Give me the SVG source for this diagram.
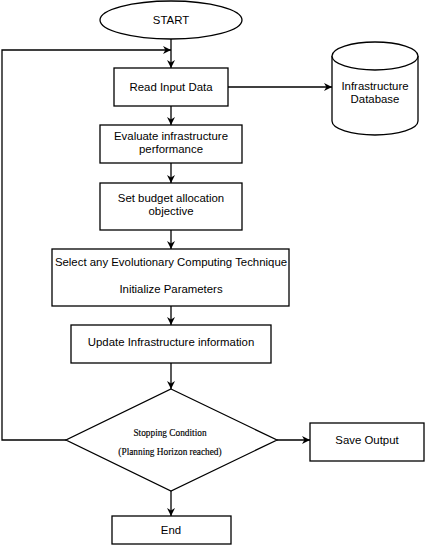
<svg xmlns="http://www.w3.org/2000/svg" width="425" height="546" viewBox="0 0 425 546">
<style>
.box{fill:#fff;stroke:#000;stroke-width:1.3}
.t{font-family:"Liberation Sans",Arial,sans-serif;font-size:11.4px;fill:#000;text-anchor:middle}
.s{font-family:"Liberation Serif","Times New Roman",serif;font-size:9.3px;fill:#000;stroke:#000;stroke-width:0.15;text-anchor:middle}
.c{fill:none;stroke:#000;stroke-width:1.3}
</style>
<defs>
<marker id="ah" viewBox="0 0 10 10" refX="10" refY="5" markerWidth="8" markerHeight="8" markerUnits="userSpaceOnUse" orient="auto">
<path d="M0,0 L10,5 L0,10 L3,5 z" fill="#000"/>
</marker>
</defs>
<rect width="425" height="546" fill="#fff"/>
<g id="connectors">
<line class="c" x1="171" y1="39" x2="171" y2="68" marker-end="url(#ah)"/>
<line class="c" x1="228" y1="87" x2="332" y2="87" marker-end="url(#ah)"/>
<line class="c" x1="171" y1="106" x2="171" y2="125" marker-end="url(#ah)"/>
<line class="c" x1="171" y1="163" x2="171" y2="183" marker-end="url(#ah)"/>
<line class="c" x1="171" y1="230" x2="171" y2="249" marker-end="url(#ah)"/>
<line class="c" x1="171" y1="306" x2="171" y2="325" marker-end="url(#ah)"/>
<line class="c" x1="171" y1="363" x2="171" y2="389" marker-end="url(#ah)"/>
<line class="c" x1="277" y1="440" x2="310" y2="440" marker-end="url(#ah)"/>
<line class="c" x1="171" y1="491" x2="171" y2="516" marker-end="url(#ah)"/>
<polyline class="c" points="66,440 2,440 2,50 171,50" marker-end="url(#ah)"/>
</g>
<g id="start">
<ellipse class="box" cx="171" cy="20" rx="71" ry="19"/>
<text class="t" x="171" y="24">START</text>
</g>
<g id="read">
<rect class="box" x="114" y="68" width="114" height="38"/>
<text class="t" x="171" y="91">Read Input Data</text>
</g>
<g id="db">
<path class="box" d="M332,56 L332,121 A43,14 0 0 0 418,121 L418,56"/>
<ellipse class="box" cx="375" cy="56" rx="43" ry="14"/>
<text class="t" x="375" y="90">Infrastructure</text>
<text class="t" x="375" y="103">Database</text>
</g>
<g id="evaluate">
<rect class="box" x="100" y="125" width="142" height="38"/>
<text class="t" x="171" y="140">Evaluate infrastructure</text>
<text class="t" x="171" y="153">performance</text>
</g>
<g id="budget">
<rect class="box" x="100" y="183" width="142" height="47"/>
<text class="t" x="171" y="202">Set budget allocation</text>
<text class="t" x="171" y="215">objective</text>
</g>
<g id="select">
<rect class="box" x="52" y="249" width="237" height="57"/>
<text class="t" x="171" y="266">Select any Evolutionary Computing Technique</text>
<text class="t" x="171" y="293">Initialize Parameters</text>
</g>
<g id="update">
<rect class="box" x="71" y="325" width="200" height="38"/>
<text class="t" x="171" y="346">Update Infrastructure information</text>
</g>
<g id="decision">
<polygon class="box" points="171,389 277,440 171,491 66,440"/>
<text class="s" x="170" y="436">Stopping Condition</text>
<text class="s" x="170" y="455">(Planning Horizon reached)</text>
</g>
<g id="save">
<rect class="box" x="310" y="423" width="114" height="38"/>
<text class="t" x="367" y="444">Save Output</text>
</g>
<g id="end">
<rect class="box" x="112" y="516" width="119" height="28"/>
<text class="t" x="171" y="534">End</text>
</g>
</svg>
